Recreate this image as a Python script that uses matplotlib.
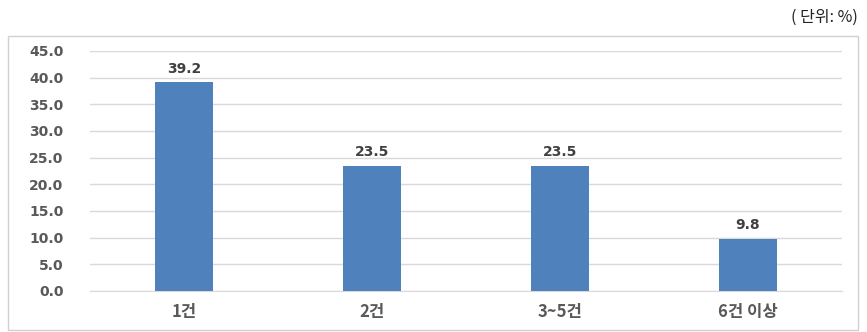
import matplotlib
matplotlib.use("Agg")
import matplotlib.pyplot as plt
from matplotlib.patches import Rectangle

plt.rcParams['font.family'] = ['Noto Sans CJK KR', 'DejaVu Sans']

categories = ["1건", "2건", "3~5건", "6건 이상"]
values = [39.2, 23.5, 23.5, 9.8]
yticks = [0, 5, 10, 15, 20, 25, 30, 35, 40, 45]

W, H = 867, 332
fig = plt.figure(figsize=(W / 100, H / 100), dpi=100, facecolor="white")

# outer chart frame
fig.patches.append(Rectangle((8 / W, 2 / H), 850 / W, 294 / H, transform=fig.transFigure,
                             fill=False, edgecolor="#d0d0d0", linewidth=1.0))
fig.text(858 / W, 1 - 17 / H, "( 단위: %)", ha="right", va="center", fontsize=11.5, color="#222222")

ax = fig.add_axes([90 / W, 1 - 291 / H, 752 / W, 240 / H])
x = range(len(categories))
bars = ax.bar(x, values, width=0.31, color="#4f81bd", zorder=3)
for b, v in zip(bars, values):
    ax.text(b.get_x() + b.get_width() / 2, v + 1.2, f"{v:.1f}", ha="center", va="bottom",
            fontsize=10, fontweight="bold", color="#404040", family="DejaVu Sans")

ax.set_xlim(-0.5, len(categories) - 0.5)
ax.set_ylim(0, 45)
ax.set_yticks(yticks)
ax.set_yticklabels([f"{t:.1f}" for t in yticks], family="DejaVu Sans")
ax.set_xticks(list(x))
ax.set_xticklabels(categories)
ax.grid(axis="y", color="#d9d9d9", linewidth=1.0, zorder=0)
for s in ["top", "right", "left"]:
    ax.spines[s].set_visible(False)
ax.spines["bottom"].set_color("#d9d9d9")
ax.tick_params(axis="both", length=0, colors="#595959")
ax.tick_params(axis="y", pad=19, labelsize=10)
ax.tick_params(axis="x", pad=9, labelsize=12)
for lab in ax.get_yticklabels() + ax.get_xticklabels():
    lab.set_fontweight("bold")

fig.savefig("out.png", dpi=100, facecolor="white")
